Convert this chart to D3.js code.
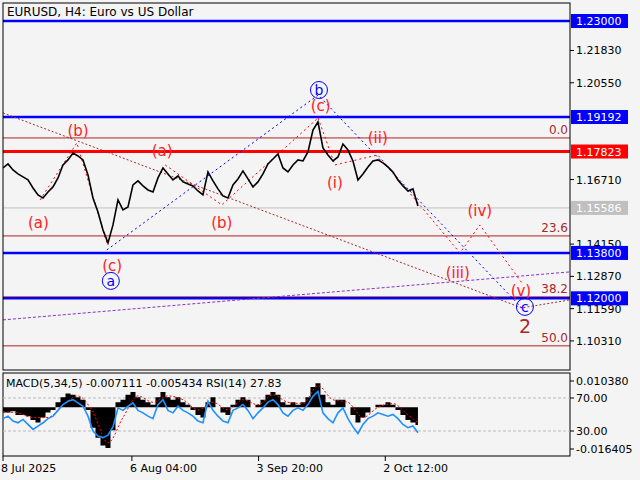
<!DOCTYPE html>
<html><head><meta charset="utf-8">
<script src="https://cdn.jsdelivr.net/npm/d3@7"></script>
<style>body{margin:0;background:#f4f4f4}svg{display:block}</style>
</head><body>
<script>
"use strict";
// price closes, one per ~27 hours from 8 Jul 2025
const closes = [1.17171,1.17330,1.17092,1.16934,1.16815,1.16696,1.16378,1.16101,1.15982,1.16220,
  1.16418,1.16775,1.17290,1.17489,1.17766,1.17647,1.17489,1.16894,1.15982,1.15427,
  1.14713,1.14198,1.14911,1.15903,1.15506,1.15625,1.16497,1.16656,1.16458,1.16299,
  1.16220,1.16775,1.17171,1.16934,1.16696,1.16854,1.16616,1.16537,1.16458,1.16259,
  1.16101,1.17013,1.16656,1.16339,1.16061,1.15982,1.16497,1.16735,1.17052,1.16735,
  1.16418,1.16616,1.16934,1.17330,1.17528,1.17727,1.17171,1.17013,1.17290,1.17489,
  1.17449,1.17806,1.18678,1.18995,1.17964,1.17687,1.17449,1.17608,1.18123,1.17885,
  1.17449,1.16696,1.16934,1.17211,1.17449,1.17489,1.17370,1.17211,1.17013,1.16696,
  1.16458,1.16259,1.16339,1.15665];
const macdHist = [-0.002,-0.002,-0.0015,-0.003,-0.003,-0.0035,-0.005,-0.006,-0.004,-0.002,
  -0.001,0.002,0.004,0.0055,0.005,0.004,0.003,-0.001,-0.008,-0.012,
  -0.015,-0.016,-0.009,0.002,0.003,0.005,0.006,0.004,0.003,0.002,
  0.001,0.004,0.006,0.004,0.003,0.004,0.002,0.001,-0.001,-0.003,
  -0.004,0.002,0.004,0.000,-0.002,-0.003,0.001,0.003,0.004,0.003,
  0.000,0.001,0.003,0.005,0.006,0.005,0.002,0.001,0.002,0.001,
  0.002,0.004,0.008,0.0095,0.005,0.002,0.001,0.003,0.003,0.000,
  -0.003,-0.006,-0.004,-0.002,0.000,0.001,0.001,0.002,0.001,-0.001,
  -0.003,-0.005,-0.006,-0.007];
const rsi = [45,48,42,40,44,38,32,36,40,45,48,55,62,66,68,64,60,48,30,24,
  22,25,35,58,55,60,64,55,52,48,45,62,68,55,52,60,55,52,48,42,
  40,66,55,48,42,40,55,58,62,55,45,52,58,65,68,62,52,48,55,58,
  55,62,72,78,52,45,40,52,58,45,35,27,38,45,48,52,50,48,50,45,
  38,34,36,28];
// signal line: [bar index, value]
const macdSignal = [[0,-0.0018],[3,-0.0022],[6,-0.004],[9,-0.004],[12,0.001],[15,0.0045],[18,-0.002],
  [21,-0.014],[24,-0.004],[27,0.0045],[30,0.002],[33,0.0045],[36,0.003],[39,-0.001],[42,0.002],
  [45,-0.001],[48,0.003],[51,0.001],[54,0.005],[57,0.002],[60,0.0015],[63,0.0085],[66,0.003],
  [69,0.002],[72,-0.004],[75,0.0],[78,0.0015],[81,-0.003],[83,-0.006]];

// wave paths: [day from start, price]
const waveBlue = [[23.5,1.13920],[71.3,1.20066],[117.4,1.11620]];
const waveRed1 = [[8.4,1.15903],[16.7,1.18163],[23.5,1.14198]];
const waveRed2 = [[36.7,1.17290],[49.5,1.15705],[71.3,1.19154]];
const waveRed3 = [[71.3,1.19154],[75.1,1.17290],[84.8,1.17687],[103.4,1.13801],[107.9,1.14911],[117.4,1.12612]];
const trendBrown = [[0,1.19352],[117.4,1.11620],[128.3,1.11938]];
const trendPurple = [[0,1.11144],[128.3,1.13048]];
const redLabels = [[8.0,1.15030,"(a)"],[17.0,1.18678,"(b)"],[24.7,1.13325,"(c)"],[36.0,1.17885,"(a)"],
  [49.5,1.15030,"(b)"],[71.9,1.19669,"(c)"],[75.1,1.16616,"(i)"],[84.8,1.18401,"(ii)"],
  [102.9,1.13048,"(iii)"],[107.9,1.15506,"(iv)"],[117.2,1.12334,"(v)"]];
const blueCircles = [[71.5,1.20264,"b"],[24.4,1.12691,"a"],[118.1,1.11660,"c"]];
const fibLevels = [[1.18361,"0.0"],[1.14475,"23.6"],[1.12057,"38.2"],[1.10114,"50.0"]];
const priceTicks = [1.21830,1.20550,1.16710,1.14150,1.12870,1.11590,1.10310];
const boxLevels = [[1.23000,"#0000ff"],[1.19192,"#0000ff"],[1.17823,"#ff0000"],[1.15586,"#c0c0c0"],[1.13800,"#0000ff"],[1.12000,"#0000ff"]];
const dateTicks = [["2025-07-08T00:00","8 Jul 2025"],["2025-08-06T04:00","6 Aug 04:00"],["2025-09-03T20:00","3 Sep 20:00"],["2025-10-02T12:00","2 Oct 12:00"]];

const W = 640, H = 480, L = 3, R = 570;
const start = new Date("2025-07-08T00:00");
const dayMs = 864e5;
const barHours = 27.15;
const barDate = i => new Date(+start + i * barHours * 36e5);
const dayDate = d => new Date(+start + d * dayMs);

const x = d3.scaleTime().domain([start, dayDate(128.3)]).range([L, R]);
const y = d3.scaleLinear().domain([1.23, 1.19192]).range([21, 117]);
const yM = d3.scaleLinear().domain([0.010380, -0.016405]).range([381, 449]);
const yR = d3.scaleLinear().domain([70, 30]).range([398, 431]);
const font = "DejaVu Sans, sans-serif";

const svg = d3.select("body").append("svg").attr("width", W).attr("height", H);
svg.append("rect").attr("width", W).attr("height", H).attr("fill", "#f4f4f4");

const main = svg.append("g");
const clip = svg.append("clipPath").attr("id", "cm");
clip.append("rect").attr("x", L).attr("y", 3).attr("width", R - L).attr("height", 367);
const plot = main.append("g").attr("clip-path", "url(#cm)");

// horizontal levels
fibLevels.forEach(f => {
  plot.append("line").attr("x1", L).attr("x2", R).attr("y1", y(f[0])).attr("y2", y(f[0]))
    .attr("stroke", "#b22222").attr("stroke-width", 1);
  plot.append("text").attr("x", R - 2).attr("y", y(f[0]) - 4).attr("text-anchor", "end")
    .attr("font-family", font).attr("font-size", 12).attr("fill", "#a52a2a").text(f[1]);
});
boxLevels.forEach(b => {
  plot.append("line").attr("x1", L).attr("x2", R).attr("y1", y(b[0])).attr("y2", y(b[0]))
    .attr("stroke", b[1]).attr("stroke-width", b[1] === "#c0c0c0" ? 1 : (b[1] === "#ff0000" ? 3 : 2.5));
});

const line = d3.line().x(d => x(dayDate(d[0]))).y(d => y(d[1]));
plot.append("path").attr("d", line(trendBrown)).attr("fill", "none").attr("stroke", "#a52a2a").attr("stroke-dasharray", "2,2");
plot.append("path").attr("d", line(trendPurple)).attr("fill", "none").attr("stroke", "#8b2fc9").attr("stroke-dasharray", "3,2");
plot.append("path").attr("d", line(waveBlue)).attr("fill", "none").attr("stroke", "#0000ff").attr("stroke-dasharray", "2,3");
[waveRed1, waveRed2, waveRed3].forEach(w => plot.append("path").attr("d", line(w))
  .attr("fill", "none").attr("stroke", "#ff0000").attr("stroke-dasharray", "2,3"));

// price
plot.append("path").datum(closes)
  .attr("d", d3.line().x((d, i) => x(barDate(i))).y(d => y(d)))
  .attr("fill", "none").attr("stroke", "#000").attr("stroke-width", 1.6);

redLabels.forEach(l => plot.append("text").attr("x", x(dayDate(l[0]))).attr("y", y(l[1]) + 6)
  .attr("text-anchor", "middle").attr("font-family", font).attr("font-size", 15)
  .attr("fill", "#ff2020").text(l[2]));
blueCircles.forEach(c => {
  plot.append("circle").attr("cx", x(dayDate(c[0]))).attr("cy", y(c[1])).attr("r", 8.5)
    .attr("fill", "none").attr("stroke", "#0000ff");
  plot.append("text").attr("x", x(dayDate(c[0]))).attr("y", y(c[1]) + 5).attr("text-anchor", "middle")
    .attr("font-family", font).attr("font-size", 14).attr("fill", "#0000ff").text(c[2]);
});
plot.append("text").attr("x", x(dayDate(118.1))).attr("y", y(1.10907) + 7).attr("text-anchor", "middle")
  .attr("font-family", font).attr("font-size", 19).attr("fill", "#a52a2a").text("2");

main.append("text").attr("x", 7).attr("y", 16).attr("font-family", font).attr("font-size", 12)
  .text("EURUSD, H4:  Euro vs US Dollar");
main.append("rect").attr("x", L).attr("y", 3).attr("width", R - L).attr("height", 367)
  .attr("fill", "none").attr("stroke", "#000");

// price axis
priceTicks.forEach(p => {
  main.append("line").attr("x1", R).attr("x2", R + 4).attr("y1", y(p)).attr("y2", y(p)).attr("stroke", "#000");
  main.append("text").attr("x", 576).attr("y", y(p) + 4).attr("font-family", font).attr("font-size", 11).text(p.toFixed(5));
});
boxLevels.forEach(b => {
  main.append("rect").attr("x", 571).attr("y", y(b[0]) - 7).attr("width", 57).attr("height", 14).attr("fill", b[1]);
  main.append("text").attr("x", 576).attr("y", y(b[0]) + 4).attr("font-family", font).attr("font-size", 11)
    .attr("fill", "#fff").text(b[0].toFixed(5));
});

// indicator panel
const sub = svg.append("g");
sub.append("rect").attr("x", L).attr("y", 373).attr("width", R - L).attr("height", 83).attr("fill", "none").attr("stroke", "#000");
[70, 30].forEach(v => sub.append("line").attr("x1", L).attr("x2", R).attr("y1", yR(v)).attr("y2", yR(v))
  .attr("stroke", "#bbb").attr("stroke-dasharray", "3,2"));
sub.append("path").datum(macdHist)
  .attr("d", d3.area().x((d, i) => x(barDate(i))).y0(yM(0)).y1(d => yM(d)).curve(d3.curveStep))
  .attr("fill", "#000");
sub.append("path").attr("d", d3.line().x(d => x(barDate(d[0]))).y(d => yM(d[1])).curve(d3.curveMonotoneX)(macdSignal))
  .attr("fill", "none").attr("stroke", "#ff0000").attr("stroke-dasharray", "2,2");
sub.append("path").datum(rsi)
  .attr("d", d3.line().x((d, i) => x(barDate(i))).y(d => yR(d)))
  .attr("fill", "none").attr("stroke", "#1e90ff").attr("stroke-width", 1.6);
sub.append("text").attr("x", 6).attr("y", 387).attr("font-family", font).attr("font-size", 11)
  .text("MACD(5,34,5) -0.007111 -0.005434 RSI(14) 27.83");
[[0.010380, "0.010380"], [-0.016405, "-0.016405"]].forEach(t => {
  sub.append("line").attr("x1", R).attr("x2", R + 4).attr("y1", yM(t[0])).attr("y2", yM(t[0])).attr("stroke", "#000");
  sub.append("text").attr("x", 576).attr("y", yM(t[0]) + 4).attr("font-family", font).attr("font-size", 11).text(t[1]);
});
[70, 30].forEach(v => {
  sub.append("line").attr("x1", R).attr("x2", R + 4).attr("y1", yR(v)).attr("y2", yR(v)).attr("stroke", "#000");
  sub.append("text").attr("x", 576).attr("y", yR(v) + 4).attr("font-family", font).attr("font-size", 11).text(v.toFixed(2));
});

// date axis
dateTicks.forEach(t => {
  const xx = x(new Date(t[0]));
  sub.append("line").attr("x1", xx).attr("x2", xx).attr("y1", 456).attr("y2", 461).attr("stroke", "#000");
  sub.append("text").attr("x", xx - 2).attr("y", 472).attr("font-family", font).attr("font-size", 11).text(t[1]);
});
</script>
</body></html>
